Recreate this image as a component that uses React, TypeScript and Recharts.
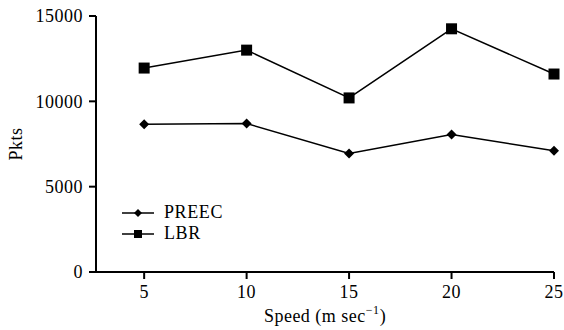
import React from "react";
import { LineChart, Line, XAxis, YAxis, Legend } from "recharts";

const speeds = [5, 10, 15, 20, 25];
const preec = [8650, 8700, 6950, 8050, 7100];
const lbr = [11950, 13000, 10200, 14250, 11600];
const yTicks = [0, 5000, 10000, 15000];

const data = speeds.map((s, i) => ({ speed: s, PREEC: preec[i], LBR: lbr[i] }));

const FONT = "Liberation Serif";
const FS = 18;

const Diamond = (props: any) => {
  const { cx, cy, key } = props;
  if (cx == null || cy == null) return null;
  const r = 5;
  return <path key={key} d={`M${cx},${cy - r}L${cx + r},${cy}L${cx},${cy + r}L${cx - r},${cy}Z`} fill="#000" />;
};

const Square = (props: any) => {
  const { cx, cy, key } = props;
  if (cx == null || cy == null) return null;
  const h = 5.5;
  return <rect key={key} x={cx - h} y={cy - h} width={h * 2} height={h * 2} fill="#000" />;
};

const XLabel = (props: any) => {
  const { viewBox } = props;
  const cx = viewBox.x + viewBox.width / 2;
  return (
    <text x={cx} y={viewBox.y + 50} textAnchor="middle" style={{ fontFamily: FONT, fontSize: FS, letterSpacing: 0.5 }} fill="#000">
      <tspan>Speed (m sec</tspan>
      <tspan dy={-8} style={{ fontSize: 12 }}>−1</tspan>
      <tspan dy={8}>)</tspan>
    </text>
  );
};

const LegendContent = () => {
  const items = [
    { name: "PREEC", shape: "diamond" },
    { name: "LBR", shape: "square" },
  ];
  return (
    <div style={{ fontFamily: FONT, fontSize: FS, letterSpacing: 0.6, color: "#000", lineHeight: "21px" }}>
      {items.map((it) => (
        <div key={it.name} style={{ display: "flex", alignItems: "center", height: 21 }}>
          <svg width={34} height={12} style={{ marginRight: 9 }}>
            <line x1={1} y1={6} x2={33} y2={6} stroke="#000" strokeWidth={1.5} />
            {it.shape === "diamond" ? (
              <path d="M17,2L21,6L17,10L13,6Z" fill="#000" />
            ) : (
              <rect x={13} y={2} width={8} height={8} fill="#000" />
            )}
          </svg>
          <span>{it.name}</span>
        </div>
      ))}
    </div>
  );
};

const tickStyle = { fill: "#000", fontFamily: FONT, fontSize: FS, style: { fontFamily: FONT, fontSize: FS, letterSpacing: 0.5 } };

export default function App() {
  return (
    <div style={{ position: "absolute", left: 0, top: 0, width: 564, height: 330, background: "#fff", fontFamily: FONT }}>
      <LineChart width={564} height={330} data={data} margin={{ top: 16, right: 10, bottom: 0, left: 0 }} style={{ fontFamily: FONT }}>
        <XAxis
          dataKey="speed"
          type="number"
          domain={[2.65, 25]}
          ticks={speeds}
          height={58}
          tickSize={7}
          tickMargin={6}
          axisLine={{ stroke: "#000", strokeWidth: 2 }}
          tickLine={{ stroke: "#000", strokeWidth: 2 }}
          tick={tickStyle}
          label={<XLabel />}
        />
        <YAxis
          type="number"
          domain={[0, 15000]}
          ticks={yTicks}
          width={96}
          tickSize={7}
          tickMargin={6}
          axisLine={{ stroke: "#000", strokeWidth: 2 }}
          tickLine={{ stroke: "#000", strokeWidth: 2 }}
          tick={tickStyle}
          label={{ value: "Pkts", angle: -90, position: "insideLeft", offset: 16, style: { fill: "#000", fontFamily: FONT, fontSize: FS, letterSpacing: 0.5, textAnchor: "middle" } }}
        />
        <Legend
          layout="vertical"
          verticalAlign="middle"
          align="center"
          content={<LegendContent />}
          wrapperStyle={{ left: 121, top: 202, width: 120 }}
        />
        <Line dataKey="PREEC" stroke="#000" strokeWidth={1.5} dot={Diamond} isAnimationActive={false} />
        <Line dataKey="LBR" stroke="#000" strokeWidth={1.5} dot={Square} isAnimationActive={false} />
      </LineChart>
    </div>
  );
}
